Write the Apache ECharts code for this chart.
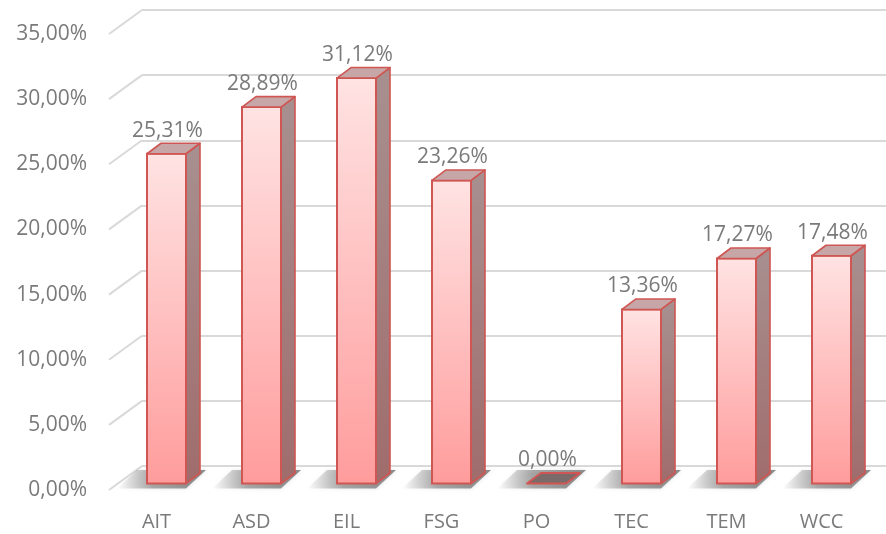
<!DOCTYPE html>
<html>
<head>
<meta charset="utf-8">
<script src="https://cdn.jsdelivr.net/npm/echarts@6/dist/echarts.min.js"></script>
<style>html,body{margin:0;padding:0;background:#fff}#c{width:886px;height:534px}</style>
</head>
<body>
<div id="c"></div>
<script>
const categories = ['AIT', 'ASD', 'EIL', 'FSG', 'PO', 'TEC', 'TEM', 'WCC'];
const values = [25.31, 28.89, 31.12, 23.26, 0.00, 13.36, 17.27, 17.48];
const yTicks = [0, 5, 10, 15, 20, 25, 30, 35];

const FONT = 'Open Sans';
const TEXT = '#7A7A7A';
const GRID_C = '#D9D9D9';
const FLOOR_DX = 33, FLOOR_DY = -24;   // depth of floor
const BAR_OX = 10, BAR_OY = -6.5;      // bar front offset from floor front edge
const BW = 39, SDX = 14, SDY = -10.5;  // bar width and depth
const EDGE = '#CF5652';

const fmt = v => v.toFixed(2).replace('.', ',') + '%';

function renderBar(params, api) {
  const i = api.value(0), v = api.value(1);
  const base = api.coord([i, 0]);
  const top = api.coord([i, v]);
  const cx = base[0] + BAR_OX;
  const x0 = cx - BW / 2, x1 = cx + BW / 2;
  const yb = base[1] + BAR_OY, yt = top[1] + BAR_OY;
  const children = [];
  // floor shadow
  children.push({
    type: 'polygon', z2: 0,
    shape: { points: [[x0 - 30, yb + 5], [x1, yb + 5], [x1 + SDX + 6, yb + SDY - 3], [x0 - 30 + SDX + 6, yb + SDY - 3]] },
    style: {
      fill: { type: 'linear', x: 0, y: 0, x2: 1, y2: 0, colorStops: [
        { offset: 0, color: 'rgba(90,90,90,0)' },
        { offset: 0.4, color: 'rgba(80,80,80,0.45)' },
        { offset: 1, color: 'rgba(70,70,70,0.6)' }] },
      shadowBlur: 4, shadowColor: 'rgba(80,80,80,0.3)'
    }
  });
  if (v > 0) {
    // side face
    children.push({
      type: 'polygon', z2: 2,
      shape: { points: [[x1, yt], [x1 + SDX, yt + SDY], [x1 + SDX, yb + SDY], [x1, yb]] },
      style: {
        fill: { type: 'linear', x: 0, y: 0, x2: 0, y2: 1, colorStops: [
          { offset: 0, color: '#A89090' }, { offset: 1, color: '#A06C6C' }] },
        stroke: EDGE, lineWidth: 1.6, lineJoin: 'round'
      }
    });
    // front face
    children.push({
      type: 'rect', z2: 3,
      shape: { x: x0, y: yt, width: BW, height: yb - yt },
      style: {
        fill: { type: 'linear', x: 0, y: 0, x2: 0, y2: 1, colorStops: [
          { offset: 0, color: '#FFE3E3' }, { offset: 1, color: '#FF9C9C' }] },
        stroke: EDGE, lineWidth: 2
      }
    });
    // top face
    children.push({
      type: 'polygon', z2: 4,
      shape: { points: [[x0, yt], [x1, yt], [x1 + SDX, yt + SDY], [x0 + SDX, yt + SDY]] },
      style: { fill: '#C6A6A6', stroke: EDGE, lineWidth: 1.6, lineJoin: 'round' }
    });
  } else {
    children.push({
      type: 'polygon', z2: 4,
      shape: { points: [[x0, yb], [x1, yb], [x1 + SDX, yb + SDY], [x0 + SDX, yb + SDY]] },
      style: { fill: '#7A6A6A', stroke: EDGE, lineWidth: 2, lineJoin: 'round' }
    });
  }
  children.push({
    type: 'text', z2: 5,
    style: {
      text: fmt(v), x: cx + 1, y: yt - 23, align: 'center', verticalAlign: 'middle',
      fill: TEXT, font: '21px "' + FONT + '"'
    }
  });
  return { type: 'group', children };
}

function renderDiag(params, api) {
  const v = api.value(0);
  const p = api.coord([0, v]);
  const x = params.coordSys.x;
  return {
    type: 'line',
    shape: { x1: x, y1: p[1], x2: x + FLOOR_DX, y2: p[1] + FLOOR_DY },
    style: { stroke: GRID_C, lineWidth: 2 }
  };
}

const chart = echarts.init(document.getElementById('c'));
chart.setOption({
  backgroundColor: '#fff',
  animation: false,
  grid: [
    { left: 109, width: 760, top: 34, bottom: 44 },
    { left: 109 + FLOOR_DX, right: 0, top: 34 + FLOOR_DY, bottom: 44 - FLOOR_DY }
  ],
  xAxis: [
    { type: 'category', gridIndex: 0, data: categories,
      axisLine: { show: false }, axisTick: { show: false },
      axisLabel: { color: TEXT, fontFamily: FONT, fontSize: 20, margin: 22 } },
    { type: 'category', gridIndex: 1, data: categories, show: false }
  ],
  yAxis: [
    { type: 'value', gridIndex: 0, min: 0, max: 35, interval: 5,
      axisLine: { show: false }, axisTick: { show: false }, splitLine: { show: false },
      axisLabel: { color: TEXT, fontFamily: FONT, fontSize: 21, margin: 22, formatter: v => fmt(v) } },
    { type: 'value', gridIndex: 1, min: 0, max: 35, interval: 5,
      axisLine: { show: false }, axisTick: { show: false }, axisLabel: { show: false },
      splitLine: { lineStyle: { color: GRID_C, width: 2 } } }
  ],
  series: [
    { type: 'custom', xAxisIndex: 0, yAxisIndex: 0, renderItem: renderDiag,
      data: yTicks.map(t => [t]), z: 1, silent: true },
    { type: 'custom', xAxisIndex: 0, yAxisIndex: 0, renderItem: renderBar,
      data: categories.map((c, i) => [i, values[i]]), z: 3, clip: false }
  ]
});
</script>
</body>
</html>
